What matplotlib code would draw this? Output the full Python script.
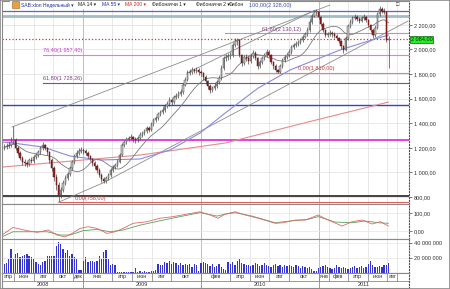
import numpy as np
import pandas as pd
import matplotlib
matplotlib.use('Agg')
import matplotlib.pyplot as plt
import matplotlib.dates as mdates
from matplotlib.patches import Rectangle
from matplotlib.ticker import FuncFormatter

plt.rcParams['font.family'] = ['Liberation Sans', 'DejaVu Sans']

W, H = 450, 289

# ---- SAB:xlon weekly candles ----
week_start = '2008-05-02'
first_open = 1195
close = [1206, 1215, 1223, 1247, 1263, 1198, 1158, 1117, 1085, 1076,
         1068, 1101, 1093, 1125, 1141, 1166, 1198, 1223, 1198, 1166,
         1101, 1036, 963, 898, 816, 857, 914, 954, 987, 1036,
         1085, 1133, 1158, 1174, 1182, 1174, 1158, 1133, 1109, 1076,
         1052, 1020, 979, 946, 930, 954, 979, 1020, 1044, 1060,
         1085, 1141, 1223, 1247, 1271, 1280, 1288, 1271, 1263, 1280,
         1304, 1320, 1337, 1361, 1345, 1393, 1426, 1442, 1475, 1491,
         1507, 1540, 1556, 1589, 1572, 1613, 1621, 1637, 1654, 1711,
         1751, 1808, 1816, 1833, 1825, 1833, 1816, 1808, 1776, 1743,
         1703, 1670, 1686, 1703, 1735, 1768, 1849, 1930, 1938, 1946,
         1954, 2036, 2068, 2076, 1954, 1889, 1938, 1930, 1906, 1946,
         1971, 1930, 1865, 1897, 1930, 1954, 1979, 1954, 1897, 1865,
         1833, 1816, 1865, 1914, 1938, 1954, 1979, 2020, 2036, 2044,
         2060, 2076, 2101, 2125, 2158, 2223, 2271, 2304, 2304, 2263,
         2206, 2158, 2117, 2125, 2133, 2125, 2109, 2093, 2068, 2028,
         1995, 2093, 2190, 2223, 2255, 2263, 2247, 2231, 2255, 2263,
         2239, 2198, 2158, 2117, 2174, 2288, 2328, 2312, 2304, 2076, 2084]
high = [1230, 1240, 1250, 1290, 1377, 1280, 1215, 1170, 1130, 1110,
        1095, 1120, 1125, 1140, 1160, 1185, 1215, 1245, 1235, 1210,
        1175, 1115, 1050, 985, 920, 880, 935, 975, 1005, 1055,
        1100, 1150, 1185, 1195, 1205, 1200, 1190, 1170, 1145, 1120,
        1090, 1065, 1035, 995, 960, 970, 995, 1035, 1060, 1080,
        1105, 1160, 1240, 1265, 1290, 1300, 1310, 1300, 1290, 1300,
        1325, 1340, 1355, 1380, 1375, 1410, 1445, 1460, 1495, 1510,
        1530, 1560, 1580, 1610, 1605, 1630, 1645, 1660, 1680, 1730,
        1775, 1830, 1845, 1860, 1850, 1855, 1850, 1835, 1820, 1790,
        1755, 1715, 1705, 1725, 1755, 1790, 1870, 1950, 1965, 1970,
        1980, 2055, 2090, 2095, 2085, 1965, 1955, 1960, 1945, 1965,
        1995, 1985, 1940, 1915, 1950, 1975, 2000, 1995, 1965, 1910,
        1880, 1845, 1880, 1930, 1955, 1975, 2000, 2040, 2055, 2065,
        2080, 2095, 2120, 2145, 2180, 2245, 2290, 2320, 2328, 2315,
        2275, 2220, 2170, 2145, 2155, 2150, 2140, 2125, 2105, 2080,
        2040, 2110, 2210, 2245, 2275, 2285, 2280, 2265, 2275, 2290,
        2275, 2250, 2210, 2170, 2195, 2305, 2350, 2345, 2335, 2315, 2110]
low = [1180, 1190, 1200, 1210, 1235, 1185, 1140, 1100, 1060, 1050,
       1040, 1055, 1075, 1080, 1110, 1125, 1150, 1185, 1180, 1145,
       1080, 1010, 930, 860, 756, 790, 840, 895, 935, 970,
       1020, 1070, 1115, 1140, 1155, 1150, 1140, 1115, 1090, 1055,
       1030, 995, 960, 925, 910, 915, 940, 965, 1005, 1030,
       1045, 1075, 1130, 1210, 1235, 1255, 1265, 1250, 1240, 1250,
       1265, 1290, 1305, 1320, 1325, 1335, 1380, 1410, 1430, 1460,
       1475, 1495, 1525, 1540, 1550, 1560, 1595, 1605, 1620, 1640,
       1700, 1740, 1790, 1800, 1805, 1805, 1795, 1785, 1755, 1720,
       1680, 1645, 1650, 1670, 1690, 1720, 1755, 1835, 1910, 1915,
       1925, 1940, 2020, 2040, 1935, 1865, 1875, 1905, 1885, 1890,
       1930, 1915, 1845, 1850, 1880, 1915, 1940, 1935, 1880, 1845,
       1815, 1810, 1805, 1850, 1900, 1920, 1940, 1965, 2005, 2020,
       2030, 2045, 2060, 2090, 2110, 2145, 2210, 2260, 2280, 2245,
       2190, 2140, 2100, 2100, 2110, 2105, 2090, 2075, 2050, 2005,
       1975, 1985, 2080, 2175, 2210, 2240, 2230, 2215, 2220, 2240,
       2220, 2180, 2140, 2095, 2105, 2165, 2275, 2295, 2285, 2060, 1850]
volume_mln = [12, 13, 19, 32, 19, 25, 27, 21, 23, 24, 25, 23, 21, 19, 14, 12, 11, 14,
              16, 22, 23, 22, 23, 36, 41, 39, 32, 27, 30, 23, 25, 21, 19, 4, 4,
              16, 21, 15, 16, 16, 15, 16, 22, 18, 28, 30, 19, 11, 12, 11, 1, 1, 1,
              1, 1, 1, 1, 1, 6, 1, 2, 1, 2, 1, 1, 2, 2, 4, 12, 10, 11, 14, 13,
              16, 12, 14, 13, 11, 13, 11, 12, 11, 12, 8, 12, 10, 2,
              13, 15, 13, 12, 9, 12, 8, 9, 12, 8, 5, 4, 14, 12, 14, 11, 16, 19,
              13, 12, 10, 11, 9, 10, 13, 12, 9, 10, 13, 11, 9, 8, 10, 12, 9, 10,
              8, 10, 9, 10, 9, 8, 10, 9, 7, 9, 8, 6, 8, 5, 3, 2,
              7, 8, 9, 10, 8, 7, 5, 7, 11, 8, 7, 8, 7, 5, 7, 8, 9, 7, 8, 9,
              6, 8, 12, 16, 10, 8, 8, 9, 8, 10, 11, 13]

# MA 55 and MA 200 (MA 14 is computed from closes)
ma55_dates = ['2008-04-28', '2008-05-29', '2008-08-30', '2008-11-22', '2009-02-22',
              '2009-06-26', '2009-09-27', '2009-12-29', '2010-03-17', '2010-06-27',
              '2010-10-04', '2010-12-19', '2011-03-07', '2011-05-24', '2011-08-04']
ma55_vals = [1247, 1239, 1206, 1133, 1101, 1109, 1182, 1320, 1483, 1686,
             1833, 1914, 1995, 2060, 2117]
ma200_dates = ['2008-04-28', '2009-06-26', '2010-03-17', '2010-11-03', '2011-08-04']
ma200_vals = [1044, 1141, 1239, 1393, 1572]

# MACD 26;12;9
macd_dates = ['2008-04-25', '2008-05-29', '2008-07-12', '2008-08-12', '2008-09-15',
              '2008-10-12', '2008-11-06', '2008-11-28', '2008-12-23', '2009-01-16',
              '2009-02-13', '2009-03-16', '2009-04-10', '2009-05-05', '2009-06-05',
              '2009-07-18', '2009-08-27', '2009-10-07', '2009-11-19', '2009-12-29',
              '2010-01-29', '2010-02-23', '2010-03-17', '2010-04-17', '2010-05-18',
              '2010-06-27', '2010-08-19', '2010-09-12', '2010-10-20', '2010-11-20',
              '2010-12-30', '2011-01-30', '2011-03-14', '2011-04-14', '2011-05-15',
              '2011-06-15', '2011-07-10', '2011-08-04']
macd_vals = [-22, 20, 2, -7, 6, -22, -32, -13, 15, 24, 15, -13, -4, 15, 43,
             52, 71, 80, 94, 107, 89, 71, 94, 107, 89, 71, 43, 46, 61, 61,
             89, 61, 28, 52, 61, 39, 52, 28]
signal_dates = ['2008-04-25', '2008-05-29', '2008-07-21', '2008-09-12', '2008-10-22',
                '2008-11-22', '2009-01-01', '2009-02-13', '2009-03-26', '2009-05-05',
                '2009-06-27', '2009-08-27', '2009-10-28', '2009-12-29', '2010-02-20',
                '2010-03-17', '2010-04-17', '2010-06-08', '2010-08-19', '2010-10-10',
                '2010-11-29', '2010-12-30', '2011-02-20', '2011-04-14', '2011-05-24',
                '2011-07-04', '2011-08-04']
signal_vals = [-32, -4, -4, -4, -22, -22, 2, 9, -4, 6, 33, 57, 80, 102, 83,
               94, 102, 83, 46, 57, 65, 80, 50, 46, 56, 46, 43]

# trend lines
trend_d0 = ['2008-05-26', '2008-10-16', '2009-03-03', '2009-11-19']
trend_p0 = [1369, 756, 914, 1808]
trend_d1 = ['2011-02-04', '2009-03-03', '2011-10-04', '2010-12-20']
trend_p1 = [2361, 914, 2231, 2320]

# plain horizontal lines
hline_prices = [2275, 2316, 2084, 1545, 1262, 808]
hline_colors = ['#a3bcc4', '#5566d6', '#cc3333', '#3344c4', '#e030e0', '#222222']
hline_styles = ['-', '-', ':', '-', '-', '-']
hline_widths = [2.0, 0.9, 0.9, 1.0, 1.3, 1.2]

# Fibonacci levels
fib_prices = [1957.40, 1728.26, 756.00, 2130.12, 1810.00]
fib_levels = ['76,40', '61,80', '0,00', '61,80', '0,00']
fib_start = ['2008-08-30', '2008-08-30', '2008-10-22', '2010-03-17', '2010-03-17']
fib_label_at = ['2008-08-30', '2008-08-30', '2008-12-07', '2010-07-09', '2010-10-28']
fib_colors = ['#e27ae2', '#8a4a8a', '#e06060', '#c090c0', '#e88080']
fib_text_colors = ['#c040c0', '#804080', '#c04040', '#804080', '#c04040']

month_starts = ['2008-04-01', '2008-06-01', '2008-08-01', '2008-10-01', '2008-12-01',
                '2009-01-01', '2009-04-01', '2009-06-01', '2009-08-01', '2009-10-01',
                '2010-01-01', '2010-04-01', '2010-06-01', '2010-08-01', '2010-10-01',
                '2011-01-01', '2011-02-01', '2011-04-01', '2011-06-01', '2011-08-01',
                '2011-09-01']
month_names = ['апр', 'июн', 'авг', 'окт', 'дек', 'янв', 'апр', 'июн', 'авг', 'окт',
               'фев', 'апр', 'июн', 'авг', 'окт', 'янв', 'фев', 'апр', 'июн', 'авг', '']
year_starts = ['2008-01-01', '2009-01-01', '2010-01-01', '2011-01-01']
year_names = ['2008', '2009', '2010', '2011']

x_from, x_to = '2008-04-25', '2011-10-07'


def dn(lst):
    return mdates.date2num(pd.to_datetime(lst))


def rect(x0, y0, x1, y1):
    return [x0 / W, 1 - y1 / H, (x1 - x0) / W, (y1 - y0) / H]


def price_fmt(v, pos=None):
    return f"{v:,.2f}".replace(',', ' ').replace('.', ',')


def vol_fmt(v, pos=None):
    return f"{v * 1e6:,.0f}".replace(',', ' ')


fig = plt.figure(figsize=(W / 100, H / 100), dpi=100)
ax = fig.add_axes(rect(2, 1, 409, 204))
axm = fig.add_axes(rect(2, 204, 409, 239))
axv = fig.add_axes(rect(2, 239, 409, 273))
axd = fig.add_axes(rect(2, 273, 409, 288))

xlo, xhi = dn([x_from, x_to])
grid_x = dn(month_starts)
year_x = dn(year_starts)

for a in (ax, axm, axv, axd):
    a.set_xlim(xlo, xhi)
    a.tick_params(bottom=False, labelbottom=False, left=False, labelleft=False)
    for s in a.spines.values():
        s.set_color('#8a8a8a')
        s.set_linewidth(0.8)
    a.spines['right'].set_linestyle(':')
    a.spines['right'].set_color('#505050')

for a in (ax, axm, axv):
    for gx in grid_x:
        a.axvline(gx, color='#dedede', lw=0.5, zorder=0)
    for gx in year_x:
        a.axvline(gx, color='#b8b8b8', lw=0.6, zorder=0)
    a.yaxis.tick_right()
    a.tick_params(axis='y', right=True, labelright=True, length=2, width=0.5,
                  color='#404040', labelsize=4, pad=1.5, labelcolor='#303030')

# ---- price panel ----
ax.set_ylim(743, 2394)
ax.set_yticks(np.arange(800, 2201, 200))
ax.yaxis.set_major_formatter(FuncFormatter(price_fmt))
ax.grid(axis='y', color='#dedede', lw=0.5)
ax.set_axisbelow(True)

for p, col, ls, lw in zip(hline_prices, hline_colors, hline_styles, hline_widths):
    ax.axhline(p, color=col, ls=ls, lw=lw, zorder=1)

for d0, p, lvl, dl, col, tcol in zip(fib_start, fib_prices, fib_levels, fib_label_at,
                                    fib_colors, fib_text_colors):
    x0 = dn([d0])[0]
    ax.plot([x0, xhi], [p, p], color=col, lw=0.8, zorder=1)
    ax.text(dn([dl])[0], p + 12, f"{lvl}({price_fmt(p)})", fontsize=4, color=tcol,
            va='bottom', ha='left', zorder=6)

for d0, p0, d1, p1 in zip(trend_d0, trend_p0, trend_d1, trend_p1):
    ax.plot(dn([d0, d1]), [p0, p1], color='#8c8c8c', lw=0.6, zorder=2)

ax.plot(dn(ma200_dates), ma200_vals, color='#e88a8a', lw=0.8, zorder=2)
ax.plot(dn(ma55_dates), ma55_vals, color='#8a8ae0', lw=0.8, zorder=2)

dates = pd.date_range(week_start, periods=len(close), freq='7D')
xd = mdates.date2num(dates)
c = np.array(close, dtype=float)
o = np.r_[first_open, c[:-1]]
h = np.array(high, dtype=float)
l = np.array(low, dtype=float)
ma14 = pd.Series(c).rolling(14, min_periods=1).mean()
ax.plot(xd, ma14, color='#7a7a7a', lw=0.6, zorder=2)

up = c >= o
bottom = np.minimum(o, c)
height = np.maximum(np.abs(c - o), 5)
ax.vlines(xd, l, h, color='#484848', lw=0.5, zorder=3)
ax.bar(xd[up], height[up], bottom=bottom[up], width=4.2, color='#c4cac4',
       edgecolor='#4a4a4a', linewidth=0.35, zorder=4)
ax.bar(xd[~up], height[~up], bottom=bottom[~up], width=4.2, color='#962020',
       edgecolor='#6a1414', linewidth=0.35, zorder=4)

ax.text(1.004, close[-1], price_fmt(close[-1]), transform=ax.get_yaxis_transform(),
        fontsize=4, va='center', ha='left', color='#102010', clip_on=False, zorder=8,
        bbox=dict(boxstyle='square,pad=0.2', fc='#22ee22', ec='#106010', lw=0.5))


def ftext(x, y, s, size=4, **kw):
    ax.text(x / W, 1 - y / H, s, transform=fig.transFigure, fontsize=size, va='center',
            ha='left', zorder=12, clip_on=False, **kw)


# header legend strip
ax.add_patch(Rectangle((10 / W, 1 - 9 / H), 240 / W, 8 / H, transform=fig.transFigure,
                       fc='white', ec='none', zorder=11, clip_on=False))
ax.add_patch(Rectangle((12 / W, 1 - 8 / H), 7 / W, 7 / H, transform=fig.transFigure,
                       fc='#e8a040', ec='#a06020', lw=0.4, zorder=12, clip_on=False))
ftext(21, 5, 'SAB:xlon Недельный ▾', size=3.6, color='#2030a0')
ftext(78, 5, 'MA 14 ▾', size=3.6, color='#202020')
ftext(102, 5, 'MA 55 ▾', size=3.6, color='#2030c0')
ftext(125, 5, 'MA 200 ▾', size=3.6, color='#d02020')
ftext(152, 5, 'Фибоначчи 1 ▾', size=3.6, color='#202020')
ftext(196, 5, 'Фибоначчи 2 ▾', size=3.6, color='#202020')
ftext(229, 5, 'Фибон', size=3.6, color='#202020')
ftext(249, 5, '100,00(2 328,00)', color='#4050b0')
ftext(396, 5, '□', color='#202020')

# ---- MACD panel ----
axm.set_ylim(-44, 150)
axm.set_yticks([0, 100])
axm.yaxis.set_major_formatter(FuncFormatter(price_fmt))
axm.grid(axis='y', color='#e4e4e4', lw=0.5)
axm.plot(dn(signal_dates), signal_vals, color='#5aa05a', lw=0.6)
axm.plot(dn(macd_dates), macd_vals, color='#e06a6a', lw=0.6)
ftext(14, 209, 'Схождение/расхождение скользящего среднего 26; 12; 9 ▾', color='#3a8a3a')
ftext(396, 209, '□ X', color='#202020')

# ---- volume panel ----
axv.set_ylim(0, 45.3)
axv.set_yticks([20, 40])
axv.yaxis.set_major_formatter(FuncFormatter(vol_fmt))
axv.grid(axis='y', color='#e4e4e4', lw=0.5)
axv.bar(xd, volume_mln, width=4.0, color='#3434d0', linewidth=0)
ftext(14, 243, 'SAB:xlonVolume', color='#2030c0')
ftext(396, 243, '□ X', color='#202020')

# ---- date strip ----
axd.set_ylim(0, 2)
axd.axhline(1, color='#8a8a8a', lw=0.6)
mb = [max(v, xlo) for v in dn(month_starts)] + [xhi]
for i, name in enumerate(month_names):
    a0, a1 = mb[i], mb[i + 1]
    axd.plot([a0, a0], [1, 2], color='#8a8a8a', lw=0.6)
    if name:
        axd.text((a0 + a1) / 2, 1.5, name, fontsize=4, ha='center', va='center',
                 color='#303030')
yb = [max(v, xlo) for v in dn(year_starts)] + [xhi]
for i, name in enumerate(year_names):
    a0, a1 = yb[i], yb[i + 1]
    axd.plot([a0, a0], [0, 2], color='#8a8a8a', lw=0.6)
    axd.text((a0 + a1) / 2, 0.5, name, fontsize=4, ha='center', va='center',
             color='#303030')

fig.patches.append(Rectangle((0, 0), 1, 1, transform=fig.transFigure, fill=False,
                             ec='#8a8a8a', lw=1.2))

fig.savefig('out.png', dpi=100)
